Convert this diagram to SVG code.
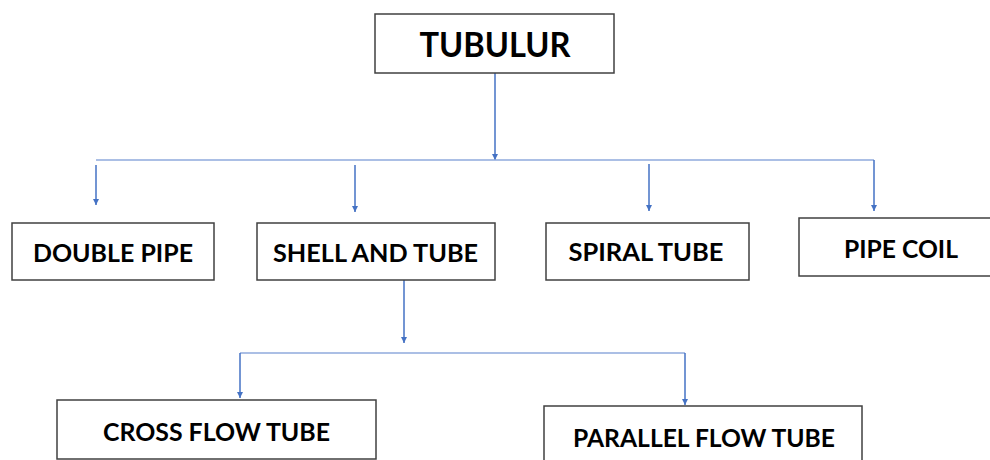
<svg xmlns="http://www.w3.org/2000/svg" width="990" height="460" viewBox="0 0 990 460">
<style>
.box{fill:#fff;stroke:#404040;stroke-width:1.5}
.lbl{font-family:Lato,"Open Sans","Liberation Sans",sans-serif;font-weight:bold;fill:#000;text-anchor:middle}
.s{font-size:25px}
.big{font-size:35px}
.con{fill:none;stroke:#4472C4;stroke-width:1.5}
.bus{fill:none;stroke:#8FAADC;stroke-width:1.5}
</style>
<defs>
<marker id="ah" markerWidth="8" markerHeight="8" refX="6" refY="4" orient="auto" markerUnits="userSpaceOnUse">
<path d="M0,1 L6,4 L0,7 Z" fill="#4472C4"/>
</marker>
</defs>
<rect width="990" height="460" fill="#fff"/>
<g id="connectors">
<path class="con" d="M495,73 V160" marker-end="url(#ah)"/>
<path class="bus" d="M96,160 H874"/>
<path class="con" d="M96,165 V205" marker-end="url(#ah)"/>
<path class="con" d="M355,165 V212" marker-end="url(#ah)"/>
<path class="con" d="M649,164 V211" marker-end="url(#ah)"/>
<path class="con" d="M874,160 V211" marker-end="url(#ah)"/>
<path class="con" d="M404,280 V343" marker-end="url(#ah)"/>
<path class="bus" d="M240,353 H685"/>
<path class="con" d="M240,353 V398" marker-end="url(#ah)"/>
<path class="con" d="M685,353 V405" marker-end="url(#ah)"/>
</g>
<g id="tubulur">
<rect class="box" x="375" y="14" width="239" height="59"/>
<text class="lbl big" x="495" y="57" textLength="151" lengthAdjust="spacingAndGlyphs">TUBULUR</text>
</g>
<g id="double-pipe">
<rect class="box" x="12" y="223" width="202" height="57"/>
<text class="lbl s" x="113" y="262" textLength="160" lengthAdjust="spacingAndGlyphs">DOUBLE PIPE</text>
</g>
<g id="shell-and-tube">
<rect class="box" x="257" y="223" width="238" height="57"/>
<text class="lbl s" x="375.5" y="262" textLength="205" lengthAdjust="spacingAndGlyphs">SHELL AND TUBE</text>
</g>
<g id="spiral-tube">
<rect class="box" x="546" y="223" width="203" height="57"/>
<text class="lbl s" x="646" y="261" textLength="155" lengthAdjust="spacingAndGlyphs">SPIRAL TUBE</text>
</g>
<g id="pipe-coil">
<rect class="box" x="799" y="218" width="195" height="58"/>
<text class="lbl s" x="901" y="258" textLength="114" lengthAdjust="spacingAndGlyphs">PIPE COIL</text>
</g>
<g id="cross-flow-tube">
<rect class="box" x="57" y="400" width="319" height="59"/>
<text class="lbl s" x="216.5" y="441" textLength="227" lengthAdjust="spacingAndGlyphs">CROSS FLOW TUBE</text>
</g>
<g id="parallel-flow-tube">
<rect class="box" x="544" y="406" width="318" height="60"/>
<text class="lbl s" x="704" y="447" textLength="262" lengthAdjust="spacingAndGlyphs">PARALLEL FLOW TUBE</text>
</g>
</svg>
